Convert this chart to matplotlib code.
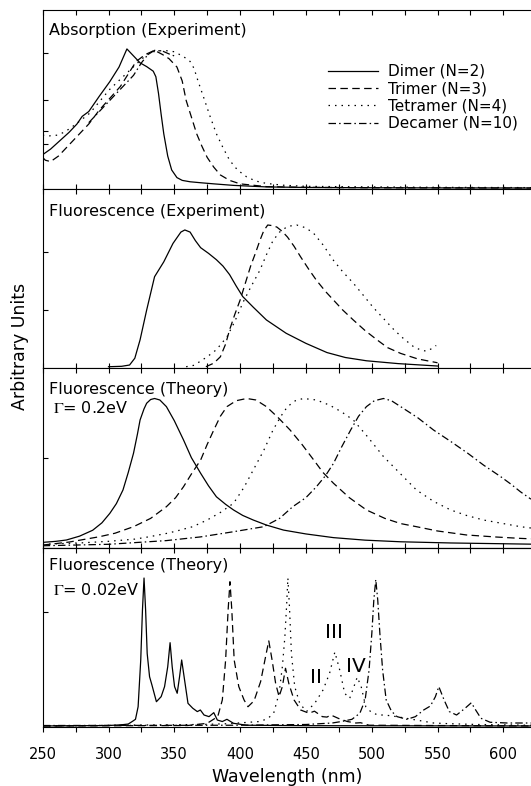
import matplotlib
matplotlib.use('Agg')
import matplotlib.pyplot as plt
from matplotlib.ticker import MultipleLocator, FixedLocator, NullFormatter

plt.rcParams['font.family'] = ['DejaVu Sans']
plt.rcParams['mathtext.fontset'] = 'stix'

# ---------------- data ----------------
series_names = ["Dimer (N=2)", "Trimer (N=3)", "Tetramer (N=4)", "Decamer (N=10)"]
panel_titles = ["Absorption (Experiment)", "Fluorescence (Experiment)",
                "Fluorescence (Theory)", "Fluorescence (Theory)"]
gamma_labels = ["", "", r"$\Gamma$= 0.2eV", r"$\Gamma$= 0.02eV"]
peak_labels = ["II", "III", "IV"]
peak_label_wl = [458, 471, 488]
peak_label_val = [0.33, 0.63, 0.40]
xticks = [250, 300, 350, 400, 450, 500, 550, 600]

# Panel 1: absorption (experiment)
abs_dimer_wl = [250, 256, 263, 270, 276, 280, 285, 293, 301, 308, 314, 318, 324, 329, 334, 336,
                338, 340, 342, 345, 348, 352, 356, 362, 370, 380, 395, 420, 450, 500, 550, 621]
abs_dimer = [0.24, 0.28, 0.34, 0.40, 0.46, 0.515, 0.55, 0.66, 0.765, 0.87, 1.0, 0.96, 0.90, 0.873,
             0.84, 0.80, 0.68, 0.53, 0.39, 0.23, 0.13, 0.075, 0.055, 0.045, 0.038, 0.03, 0.019,
             0.008, 0.004, 0.002, 0.001, 0.0]
abs_trimer_wl = [250, 252, 256, 262, 268, 276, 285, 293, 301, 309, 315, 321, 328, 335, 341, 346,
                 352, 356, 359, 363, 367, 371, 375, 380, 385, 392, 400, 410, 420, 450, 500, 621]
abs_trimer = [0.22, 0.20, 0.19, 0.23, 0.29, 0.37, 0.46, 0.56, 0.645, 0.73, 0.82, 0.91, 0.96, 0.99,
              0.96, 0.93, 0.87, 0.77, 0.63, 0.51, 0.39, 0.30, 0.22, 0.15, 0.094, 0.055, 0.03, 0.02,
              0.01, 0.005, 0.002, 0.0]
abs_tetramer_wl = [250, 255, 261, 266, 271, 278, 286, 293, 301, 311, 321, 328, 334, 342, 350, 357,
                   362, 365, 368, 372, 377, 382, 387, 392, 398, 405, 412, 420, 433, 450, 500, 550, 621]
abs_tetramer = [0.38, 0.375, 0.38, 0.40, 0.43, 0.48, 0.54, 0.62, 0.71, 0.80, 0.89, 0.95, 0.98, 0.99,
                0.98, 0.945, 0.91, 0.86, 0.77, 0.66, 0.52, 0.39, 0.29, 0.20, 0.13, 0.08, 0.05, 0.033,
                0.02, 0.012, 0.008, 0.005, 0.003]
abs_decamer_wl = [285, 296, 308, 319, 325, 330, 335, 341, 347, 350]
abs_decamer = [0.47, 0.58, 0.70, 0.81, 0.90, 0.96, 0.99, 0.985, 0.96, 0.95]

# Panel 2: fluorescence (experiment)
fle_dimer_wl = [300, 310, 316, 320, 324, 329, 335, 342, 349, 355, 358, 362, 366, 370, 376, 382, 387,
                392, 397, 402, 410, 420, 435, 450, 466, 480, 496, 520, 550]
fle_dimer = [0.0, 0.003, 0.012, 0.06, 0.19, 0.40, 0.635, 0.74, 0.87, 0.95, 0.965, 0.95, 0.89, 0.84,
             0.80, 0.755, 0.71, 0.65, 0.57, 0.495, 0.42, 0.33, 0.236, 0.165, 0.10, 0.065, 0.042,
             0.022, 0.005]
fle_trimer_wl = [374, 380, 385, 389, 392, 396, 400, 404, 408, 412, 415, 418, 421, 425, 428, 432, 436,
                 441, 446, 452, 458, 465, 471, 478, 486, 495, 504, 512, 522, 535, 550]
fle_trimer = [0.0, 0.025, 0.07, 0.16, 0.26, 0.37, 0.47, 0.59, 0.71, 0.81, 0.89, 0.96, 1.0, 0.995,
              0.985, 0.955, 0.915, 0.85, 0.775, 0.69, 0.61, 0.53, 0.47, 0.40, 0.33, 0.255, 0.19,
              0.135, 0.094, 0.055, 0.028]
fle_tetramer_wl = [359, 365, 370, 375, 382, 390, 396, 402, 408, 415, 420, 425, 430, 436, 443, 450,
                   456, 463, 471, 478, 486, 494, 501, 509, 517, 524, 532, 538, 542, 546, 549]
fle_tetramer = [0.0, 0.01, 0.04, 0.07, 0.12, 0.21, 0.32, 0.45, 0.56, 0.68, 0.79, 0.89, 0.95, 0.99,
                1.0, 0.98, 0.94, 0.86, 0.75, 0.67, 0.59, 0.50, 0.42, 0.34, 0.26, 0.20, 0.14, 0.115,
                0.11, 0.13, 0.15]

# Panel 3: fluorescence (theory, Gamma = 0.2 eV)
th2_dimer_wl = [250, 260, 268, 278, 288, 295, 301, 306, 311, 315, 319, 322, 324, 327, 329, 332, 335,
                339, 344, 350, 357, 363, 370, 376, 382, 389, 395, 402, 410, 420, 433, 450, 471, 495,
                522, 560, 613, 621]
th2_dimer = [0.028, 0.035, 0.044, 0.07, 0.11, 0.16, 0.224, 0.29, 0.382, 0.5, 0.63, 0.76, 0.855,
             0.93, 0.968, 0.993, 1.0, 0.99, 0.945, 0.85, 0.72, 0.60, 0.495, 0.41, 0.336, 0.285,
             0.247, 0.21, 0.179, 0.145, 0.111, 0.085, 0.06, 0.043, 0.032, 0.024, 0.017, 0.016]
th2_trimer_wl = [250, 270, 293, 305, 319, 332, 344, 351, 357, 363, 370, 375, 380, 385, 390, 397, 405,
                 412, 420, 429, 438, 447, 456, 463, 471, 483, 496, 510, 522, 534, 550, 572, 595, 613,
                 621]
th2_trimer = [0.01, 0.03, 0.066, 0.09, 0.134, 0.19, 0.269, 0.33, 0.404, 0.49, 0.584, 0.69, 0.787,
              0.88, 0.945, 0.985, 1.0, 0.99, 0.945, 0.87, 0.787, 0.69, 0.584, 0.5, 0.427, 0.33,
              0.247, 0.19, 0.155, 0.134, 0.105, 0.078, 0.064, 0.055, 0.052]
th2_tetramer_wl = [250, 280, 300, 320, 331, 345, 354, 364, 375, 385, 395, 403, 410, 418, 425, 431,
                   436, 442, 448, 458, 468, 477, 486, 497, 509, 522, 534, 547, 560, 572, 585, 600,
                   613, 621]
th2_tetramer = [0.015, 0.025, 0.035, 0.05, 0.066, 0.09, 0.11, 0.134, 0.179, 0.23, 0.292, 0.40,
                0.517, 0.65, 0.787, 0.88, 0.945, 0.985, 1.0, 0.99, 0.955, 0.91, 0.855, 0.74, 0.607,
                0.49, 0.382, 0.305, 0.247, 0.21, 0.179, 0.155, 0.134, 0.125]
th2_decamer_wl = [250, 300, 344, 370, 395, 418, 430, 440, 450, 458, 465, 471, 477, 484, 490, 496,
                  502, 509, 515, 522, 535, 547, 560, 573, 585, 598, 606, 613, 621]
th2_decamer = [0.005, 0.015, 0.04, 0.065, 0.10, 0.134, 0.19, 0.269, 0.33, 0.404, 0.48, 0.562, 0.67,
               0.787, 0.88, 0.945, 0.985, 1.0, 0.985, 0.945, 0.87, 0.787, 0.71, 0.63, 0.55, 0.472,
               0.42, 0.37, 0.32]

# Panel 4: fluorescence (theory, Gamma = 0.02 eV)
th02_dimer_wl = [250, 300, 310, 315, 318, 320.5, 322.5, 324.5, 325.8, 327, 328.2, 329.4, 331.2, 333,
                 336.4, 340, 342.6, 345, 346.8, 348.4, 350.2, 352.2, 354, 355.6, 357.8, 360.4, 364,
                 367.5, 369.8, 372.6, 376.4, 380, 382.7, 386.5, 390, 395, 405, 450, 621]
th02_dimer = [0.0, 0.003, 0.008, 0.013, 0.03, 0.045, 0.13, 0.446, 0.784, 1.0, 0.784, 0.49, 0.333,
              0.277, 0.164, 0.198, 0.266, 0.40, 0.563, 0.40, 0.266, 0.221, 0.333, 0.446, 0.311,
              0.153, 0.12, 0.097, 0.108, 0.074, 0.063, 0.09, 0.04, 0.03, 0.045, 0.018, 0.005,
              0.002, 0.0]
th02_trimer_wl = [250, 360, 375, 383, 386.5, 389, 390.9, 392.3, 393.7, 395.5, 399, 403, 406, 410.6,
                  415.6, 419.4, 421.8, 424.3, 427, 429.6, 432.1, 434.5, 437, 441, 446, 452.4, 456.5,
                  462.5, 466, 469, 475, 481.5, 488, 491.6, 498, 621]
th02_trimer = [0.0, 0.003, 0.018, 0.063, 0.176, 0.446, 0.784, 0.975, 0.784, 0.446, 0.266, 0.176,
               0.13, 0.17, 0.30, 0.47, 0.575, 0.446, 0.288, 0.198, 0.266, 0.39, 0.288, 0.176, 0.108,
               0.086, 0.10, 0.063, 0.06, 0.074, 0.05, 0.03, 0.02, 0.022, 0.005, 0.0]
th02_tetramer_wl = [250, 370, 390, 415, 421, 425.5, 429.6, 432.1, 434, 435.3, 436.3, 437.5, 439,
                    441.5, 445.3, 450.4, 456.7, 463, 468, 472, 475.7, 479.5, 483.3, 486.5, 489, 492,
                    495.5, 500, 505, 510, 519, 534, 547, 560, 580, 621]
th02_tetramer = [0.0, 0.01, 0.015, 0.03, 0.05, 0.086, 0.22, 0.40, 0.60, 0.806, 1.0, 0.806, 0.49,
                 0.266, 0.153, 0.097, 0.153, 0.243, 0.356, 0.50, 0.378, 0.22, 0.187, 0.266, 0.33,
                 0.266, 0.13, 0.09, 0.074, 0.074, 0.063, 0.04, 0.02, 0.015, 0.01, 0.005]
th02_decamer_wl = [250, 400, 450, 470, 477, 485, 491, 495, 498, 500.1, 501.6, 503.1, 504.6, 506.2,
                   508.3, 511, 515, 519.3, 526.8, 533.2, 539.5, 544.6, 548.4, 551, 555, 559, 564.5,
                   571, 575.7, 579, 583, 590, 603, 621]
th02_decamer = [0.003, 0.005, 0.01, 0.02, 0.03, 0.045, 0.086, 0.176, 0.378, 0.626, 0.85, 0.99, 0.85,
                0.626, 0.378, 0.176, 0.10, 0.063, 0.045, 0.063, 0.108, 0.135, 0.198, 0.266, 0.176,
                0.097, 0.074, 0.12, 0.157, 0.108, 0.052, 0.025, 0.02, 0.02]

panels = [
    [(abs_dimer_wl, abs_dimer), (abs_trimer_wl, abs_trimer), (abs_tetramer_wl, abs_tetramer),
     (abs_decamer_wl, abs_decamer)],
    [(fle_dimer_wl, fle_dimer), (fle_trimer_wl, fle_trimer), (fle_tetramer_wl, fle_tetramer), None],
    [(th2_dimer_wl, th2_dimer), (th2_trimer_wl, th2_trimer), (th2_tetramer_wl, th2_tetramer),
     (th2_decamer_wl, th2_decamer)],
    [(th02_dimer_wl, th02_dimer), (th02_trimer_wl, th02_trimer), (th02_tetramer_wl, th02_tetramer),
     (th02_decamer_wl, th02_decamer)],
]

# ---------------- layout / style ----------------
W, H = 531, 786
fig = plt.figure(figsize=(W / 100, H / 100), dpi=100)

panel_px = [(10, 189), (189, 368), (368, 548), (548, 727)]
ylims = [(-0.007, 1.28), (-0.009, 1.254), (-0.010, 1.206), (-0.007, 1.203)]
yticks = [[0.32, 0.41, 0.63, 0.97], [0.40, 0.81], [0.60], [0.77]]
title_y = [0.888, 0.873, 0.883, 0.905]
gamma_y = [0, 0, 0.778, 0.765]
styles = ['-', (0, (6, 3.5)), (0, (1.2, 4)), (0, (6, 2.5, 1.2, 2.5))]
left_px, right_px = 42.7, 532.0
xmax = 250 + (right_px - left_px) / 1.316

axes = []
for i, (top, bot) in enumerate(panel_px):
    ax = fig.add_axes([left_px / W, 1 - bot / H, (right_px - left_px) / W, (bot - top) / H])
    axes.append(ax)
    for j, s in enumerate(panels[i]):
        if s is None:
            continue
        ax.plot(s[0], s[1], color='black', lw=0.9, linestyle=styles[j], label=series_names[j])
    ax.set_xlim(250, xmax)
    ax.set_ylim(*ylims[i])
    ax.xaxis.set_major_locator(MultipleLocator(50))
    ax.xaxis.set_minor_locator(MultipleLocator(25))
    ax.yaxis.set_major_locator(FixedLocator(yticks[i]))
    ax.yaxis.set_major_formatter(NullFormatter())
    ax.tick_params(axis='both', which='both', direction='in', top=True, right=False,
                   length=3.5, width=0.8)
    for sp in ax.spines.values():
        sp.set_linewidth(0.8)
    if i < 3:
        ax.tick_params(axis='x', labelbottom=False)
    ax.text(0.013, title_y[i], panel_titles[i], transform=ax.transAxes, ha='left', va='center',
            fontsize=11.5)
    if gamma_labels[i]:
        ax.text(0.022, gamma_y[i], gamma_labels[i], transform=ax.transAxes, ha='left',
                va='center', fontsize=11.5)

# bottom panel: outward ticks with labels at the bottom, inward ticks at the top
ax4 = axes[3]
ax4.set_xticks(xticks)
ax4.set_xticklabels([str(t) for t in xticks])
ax4.tick_params(axis='x', which='both', direction='out', top=False, labelsize=10.5, pad=11)
sec = ax4.secondary_xaxis('top')
sec.xaxis.set_major_locator(MultipleLocator(50))
sec.xaxis.set_minor_locator(MultipleLocator(25))
sec.xaxis.set_major_formatter(NullFormatter())
sec.tick_params(axis='x', which='both', direction='in', length=3.5, width=0.8,
                labeltop=False, labelbottom=False)
sec.spines['top'].set_linewidth(0.8)

for lab, wl, v in zip(peak_labels, peak_label_wl, peak_label_val):
    ax4.text(wl, v, lab, ha='center', va='center', fontsize=14.5)

# legend on top panel (handles of all four series from the theory panel)
handles, labels = axes[2].get_legend_handles_labels()
axes[0].legend(handles, labels, loc='upper left', bbox_to_anchor=(328 / W, 1 - 64 / H),
               bbox_transform=fig.transFigure, frameon=False, fontsize=11, handlelength=3.3,
               handletextpad=0.6, labelspacing=0.15, borderpad=0, borderaxespad=0)

fig.text(20 / W, 1 - 346 / H, 'Arbitrary Units', rotation=90, ha='center', va='center',
         fontsize=12.5)
fig.text(287 / W, 1 - 777 / H, 'Wavelength (nm)', ha='center', va='center', fontsize=12.5)

fig.savefig('out.png', dpi=100)
